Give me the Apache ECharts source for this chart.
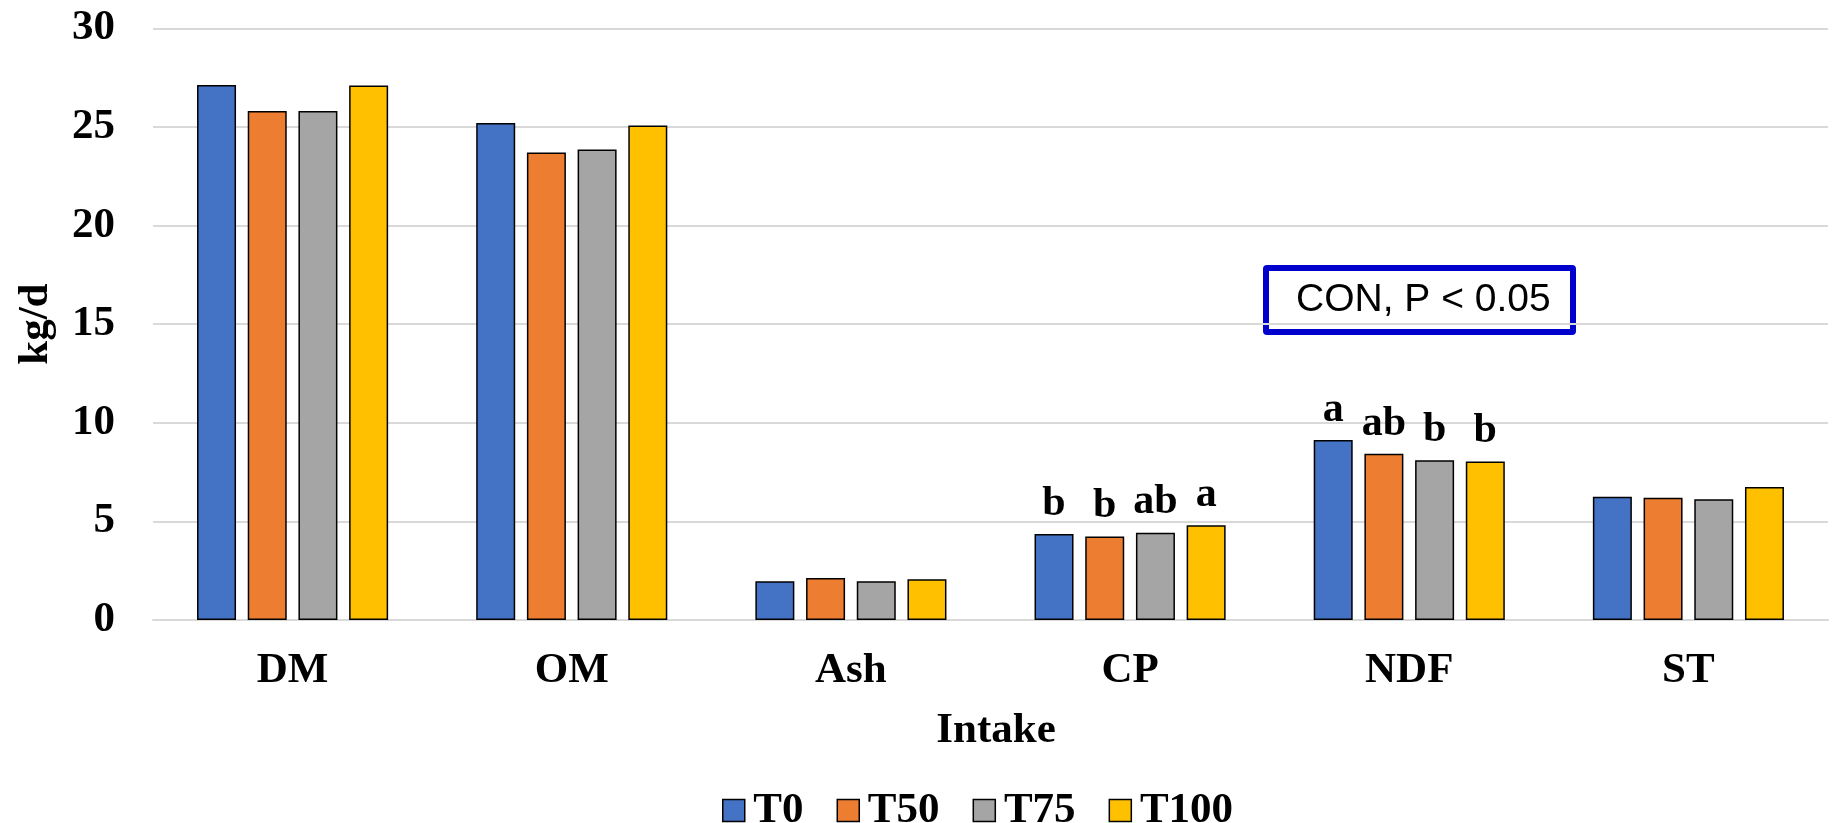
<!DOCTYPE html>
<html>
<head>
<meta charset="utf-8">
<script src="https://cdn.jsdelivr.net/npm/echarts@6/dist/echarts.min.js"></script>
<style>html,body{margin:0;padding:0;background:#fff}#c{width:1832px;height:823px}</style>
</head>
<body>
<div id="c"></div>
<script>
const categories = ['DM', 'OM', 'Ash', 'CP', 'NDF', 'ST'];
const seriesNames = ['T0', 'T50', 'T75', 'T100'];
const T0 = [27.13, 25.2, 1.96, 4.36, 9.13, 6.25];
const T50 = [25.81, 23.7, 2.13, 4.23, 8.43, 6.20];
const T75 = [25.81, 23.85, 1.96, 4.43, 8.10, 6.12];
const T100 = [27.10, 25.07, 2.07, 4.80, 8.03, 6.74];
const lettersT0 = ['', '', '', 'b', 'a', ''];
const lettersT50 = ['', '', '', 'b', 'ab', ''];
const lettersT75 = ['', '', '', 'ab', 'b', ''];
const lettersT100 = ['', '', '', 'a', 'b', ''];
const yTicks = [0, 5, 10, 15, 20, 25, 30];
const yAxisTitle = 'kg/d';
const xAxisTitle = 'Intake';
const annotationText = 'CON, P < 0.05';

const colors = ['#4472C4', '#ED7D31', '#A5A5A5', '#FFC000'];
const values = [T0, T50, T75, T100];
const letters = [lettersT0, lettersT50, lettersT75, lettersT100];
const serif = '"Liberation Serif", "Times New Roman", serif';

const chart = echarts.init(document.getElementById('c'), null, {renderer: 'canvas'});
chart.setOption({
  animation: false,
  color: colors,
  grid: {left: 153, right: 4, top: 28.3, bottom: 203, containLabel: false},
  title: {
    text: xAxisTitle, left: 991, top: 704, textAlign: 'center',
    textStyle: {fontFamily: serif, fontWeight: 'bold', fontSize: 43, color: '#000'}
  },
  legend: {
    data: seriesNames, left: 717, top: 784, itemWidth: 22, itemHeight: 22, itemGap: 33,
    icon: 'rect',
    itemStyle: {borderColor: '#000', borderWidth: 1.5},
    formatter: n => '\u200a' + n,
    textStyle: {fontFamily: serif, fontWeight: 'bold', fontSize: 43, color: '#000'}
  },
  xAxis: {
    type: 'category', data: categories,
    axisLine: {lineStyle: {color: '#d9d9d9', width: 2}},
    axisTick: {show: false},
    axisLabel: {fontFamily: serif, fontWeight: 'bold', fontSize: 43, color: '#000', margin: 29}
  },
  yAxis: {
    type: 'value', min: 0, max: 30, interval: 5,
    name: yAxisTitle, nameLocation: 'middle', nameRotate: 90, nameGap: 96,
    nameTextStyle: {fontFamily: serif, fontWeight: 'bold', fontSize: 43, color: '#000'},
    axisLine: {show: false}, axisTick: {show: false},
    axisLabel: {fontFamily: serif, fontWeight: 'bold', fontSize: 43, color: '#000', margin: 38,
      formatter: v => yTicks.includes(v) ? String(v) : ''},
    splitLine: {lineStyle: {color: '#d9d9d9', width: 2}}
  },
  series: seriesNames.map((n, i) => ({
    name: n, type: 'bar', data: values[i], barWidth: 39, barGap: '30%',
    itemStyle: {color: colors[i], borderColor: '#000', borderWidth: 1.5},
    label: {
      show: true, position: 'top', distance: 9,
      formatter: p => letters[i][p.dataIndex],
      fontFamily: serif, fontWeight: 'bold', fontSize: 42, color: '#000'
    }
  })),
  graphic: [{
    type: 'group', left: 1263, top: 265,
    children: [
      {type: 'rect', shape: {x: 3, y: 3, width: 307, height: 64, r: 1},
       style: {fill: '#fff', stroke: '#0000CC', lineWidth: 6, lineJoin: 'round'}},
      {type: 'text', x: 33, y: 35,
       style: {text: annotationText, font: '39px "Liberation Sans", Arial, sans-serif', fill: '#000', textVerticalAlign: 'middle'}}
    ]
  }]
});
</script>
</body>
</html>
